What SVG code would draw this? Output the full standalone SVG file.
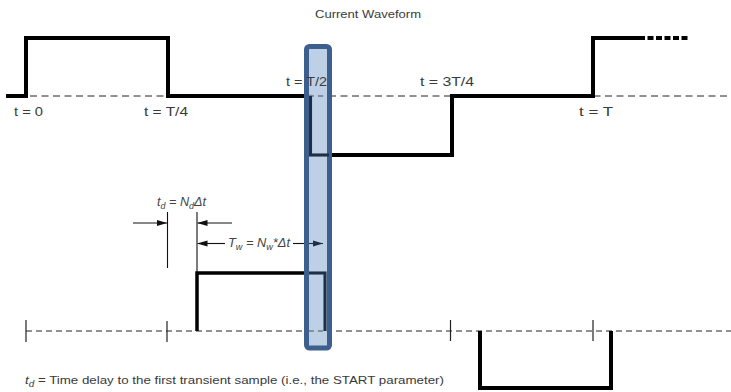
<svg xmlns="http://www.w3.org/2000/svg" width="731" height="392" viewBox="0 0 731 392">
<defs>
<style>
.wave{fill:none;stroke:#000;stroke-width:4;stroke-linejoin:miter;stroke-linecap:square}
.wave2{fill:none;stroke:#000;stroke-width:3.5;stroke-linejoin:miter}
.dash{fill:none;stroke:#222;stroke-width:1;stroke-dasharray:7 4.5}
.tick{stroke:#222;stroke-width:1.2}
.thin{stroke:#111;stroke-width:1.1;fill:none}
.lbl{font-family:"Liberation Sans",Arial,sans-serif;font-size:13.5px;fill:#3a3a3a}
.ann{font-family:"Liberation Sans",Arial,sans-serif;font-size:12px;fill:#444;font-style:italic}
.inner{fill:none;stroke:#1e3048;stroke-width:3}
</style>
<marker id="ah" markerWidth="10" markerHeight="8" refX="10" refY="4" orient="auto" markerUnits="userSpaceOnUse">
<path d="M0,1 L10,4 L0,7 Z" fill="#111"/>
</marker>
<marker id="ahd" markerWidth="10" markerHeight="8" refX="10" refY="4" orient="auto" markerUnits="userSpaceOnUse">
<path d="M0,1 L10,4 L0,7 Z" fill="#1e3048"/>
</marker>
</defs>
<rect width="731" height="392" fill="#fff"/>

<g id="title">
<text class="lbl" x="315" y="18" style="font-size:10.5px" textLength="106" lengthAdjust="spacingAndGlyphs">Current Waveform</text>
</g>

<g id="axes">
<line class="dash" x1="7" y1="96" x2="731" y2="96"/>
<line class="dash" x1="26" y1="331" x2="731" y2="331" style="stroke-dasharray:6 4"/>
<line class="tick" x1="26" y1="320" x2="26" y2="342"/>
<line class="tick" x1="167" y1="321" x2="167" y2="342"/>
<line class="tick" x1="450.5" y1="320" x2="450.5" y2="341"/>
<line class="tick" x1="593" y1="320" x2="593" y2="341"/>
</g>

<g id="current-waveform">
<path class="wave" d="M8,96 H26 V38 H168 V96 H310.5 V155 H452 V96 H593 V38 H639"/>
<line x1="639" y1="38" x2="689" y2="38" stroke="#000" stroke-width="4" stroke-dasharray="6 2.5"/>
</g>

<g id="sample-window">
<path class="wave2" d="M197,331 V273 H325 V331"/>
</g>

<g id="negative-window">
<path class="wave" d="M480,331 V388 H611 V331" style="stroke-linecap:butt"/>
</g>

<g id="labels">
<text class="lbl" x="14" y="116" textLength="29" lengthAdjust="spacingAndGlyphs">t = 0</text>
<text class="lbl" x="144" y="116" textLength="44" lengthAdjust="spacingAndGlyphs">t = T/4</text>
<text class="lbl" x="420" y="86" textLength="54" lengthAdjust="spacingAndGlyphs">t = 3T/4</text>
<text class="lbl" x="579" y="116" textLength="34" lengthAdjust="spacingAndGlyphs">t = T</text>
</g>

<g id="connectors">
<line class="thin" x1="167.5" y1="212" x2="167.5" y2="268"/>
<line class="thin" x1="197" y1="212" x2="197" y2="272"/>
<line class="thin" x1="133" y1="223" x2="167" y2="223" marker-end="url(#ah)"/>
<line class="thin" x1="232" y1="223" x2="197.5" y2="223" marker-end="url(#ah)"/>
<line class="thin" x1="225" y1="243.5" x2="197.5" y2="243.5" marker-end="url(#ah)"/>
<line class="thin" x1="293" y1="243.5" x2="306" y2="243.5"/>
</g>

<g id="annotations">
<text class="ann" x="157" y="206" textLength="49" lengthAdjust="spacingAndGlyphs">t<tspan dy="3" font-size="8.5">d</tspan><tspan dy="-3"> = N</tspan><tspan dy="3" font-size="8.5">d</tspan><tspan dy="-3">Δt</tspan></text>
<text class="ann" x="228" y="247" textLength="62" lengthAdjust="spacingAndGlyphs">T<tspan dy="3" font-size="8.5">w</tspan><tspan dy="-3"> = N</tspan><tspan dy="3" font-size="8.5">w</tspan><tspan dy="-3">*Δt</tspan></text>
<text class="lbl" x="25" y="384" style="font-size:11.5px" textLength="419" lengthAdjust="spacingAndGlyphs"><tspan font-style="italic">t</tspan><tspan font-style="italic" dy="3" font-size="8.5">d</tspan><tspan dy="-3"> = Time delay to the first transient sample (i.e., the START parameter)</tspan></text>
</g>

<g id="highlight">
<rect x="306.5" y="46.5" width="23" height="301.5" rx="3" fill="#b8cce4" fill-opacity="0.92" stroke="#3c5f8e" stroke-width="5"/>
<line x1="309" y1="96" x2="327" y2="96" stroke="#555" stroke-width="1" stroke-dasharray="5 4"/>
<line x1="309" y1="331" x2="327" y2="331" stroke="#555" stroke-width="1" stroke-dasharray="5 4"/>
<path class="inner" d="M310.5,96 V155 H329"/>
<path class="inner" d="M309,273 H325 V331"/>
<line x1="309" y1="243.5" x2="323" y2="243.5" stroke="#1e3048" stroke-width="1.1" marker-end="url(#ahd)"/>
<text class="lbl" x="286" y="86" textLength="41" lengthAdjust="spacingAndGlyphs">t = T/2</text>
</g>
</svg>
